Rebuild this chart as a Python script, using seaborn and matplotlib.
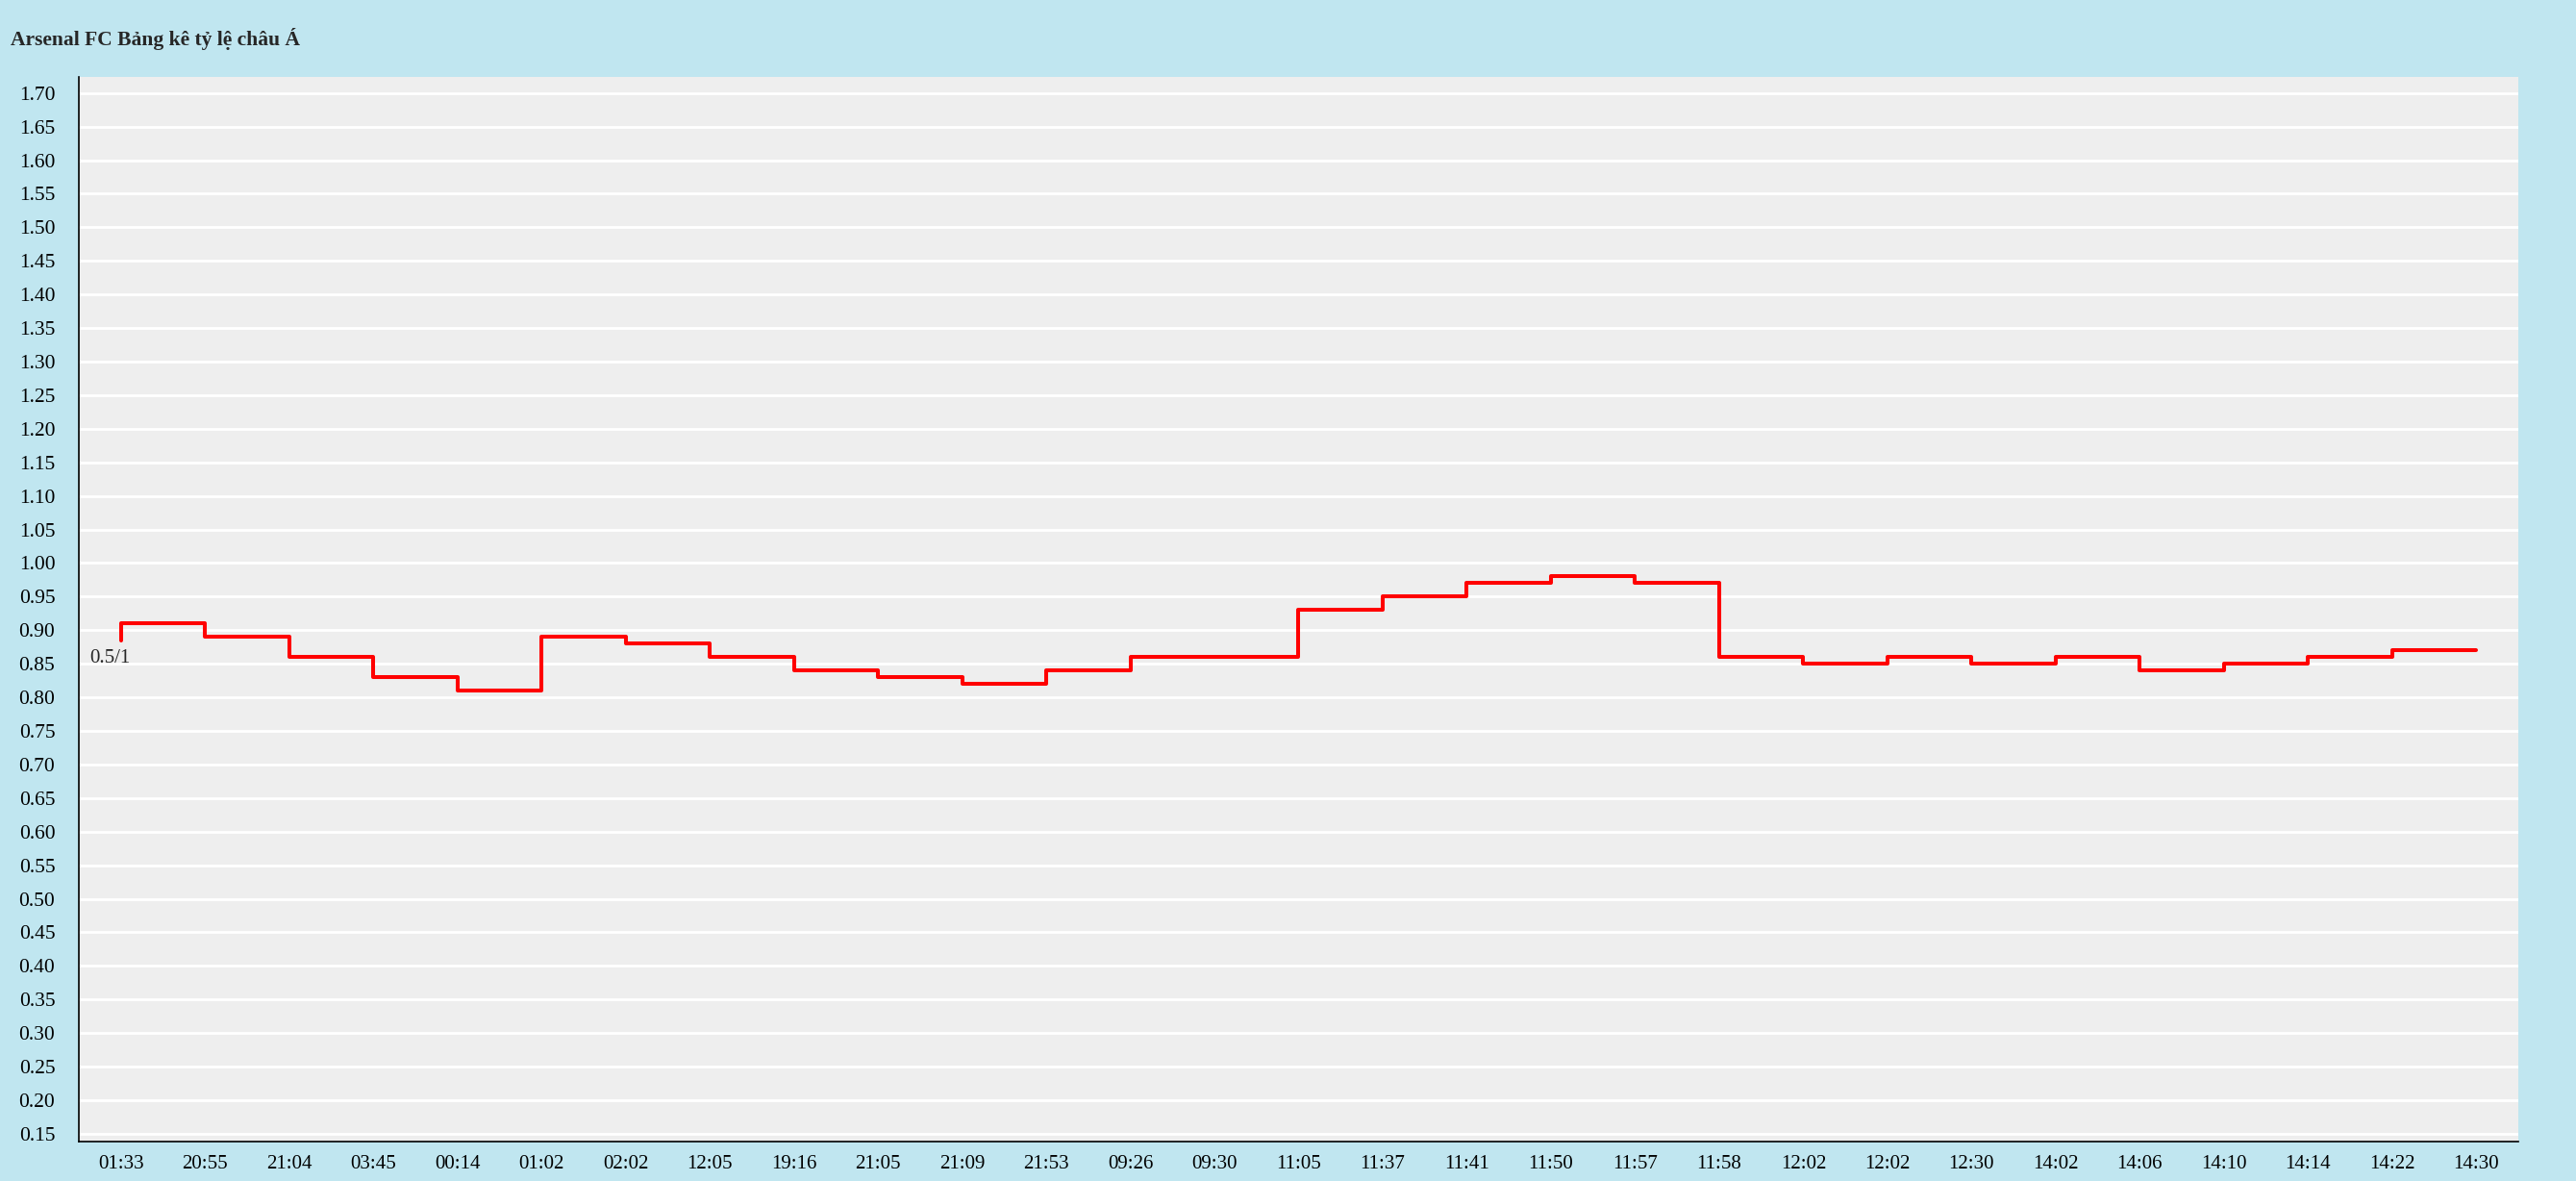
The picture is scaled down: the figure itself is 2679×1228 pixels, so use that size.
import numpy as np
import pandas as pd
import matplotlib
matplotlib.use("Agg")
import matplotlib.pyplot as plt
import seaborn as sns

# odds data
times = ["01:33", "20:55", "21:04", "03:45", "00:14", "01:02", "02:02", "12:05",
         "19:16", "21:05", "21:09", "21:53", "09:26", "09:30", "11:05", "11:37",
         "11:41", "11:50", "11:57", "11:58", "12:02", "12:02", "12:30", "14:02",
         "14:06", "14:10", "14:14", "14:22", "14:30"]
odds = [0.885, 0.91, 0.89, 0.86, 0.83, 0.81, 0.89, 0.88, 0.86, 0.84, 0.83, 0.82,
        0.84, 0.86, 0.86, 0.93, 0.95, 0.97, 0.98, 0.97, 0.86, 0.85, 0.86, 0.85,
        0.86, 0.84, 0.85, 0.86, 0.87]
yticks = np.round(np.arange(0.15, 1.701, 0.05), 2)
start_label = "0.5/1"

df = pd.DataFrame({"pos": range(len(times)), "odds": odds})

sns.set_style("white", {"axes.facecolor": "#EEEEEE"})
plt.rcParams["font.family"] = ["Liberation Serif", "DejaVu Serif"]

fig = plt.figure(figsize=(26.79, 12.28), dpi=100, facecolor="#C0E6F0")
ax = fig.add_axes([0.0306, 0.0334, 0.947, 0.9015])

for v in yticks:
    ax.axhline(v, color="white", lw=2, zorder=1)

sns.lineplot(data=df, x="pos", y="odds", ax=ax, color="#FF0000", lw=2.9,
             drawstyle="steps-pre", zorder=3)

ax.text(-0.13, 0.858, start_label, ha="center", va="center", fontsize=15)

ax.set_xlim(-0.5, 28.5)
ax.set_ylim(0.1385, 1.724)
ax.set_xticks(range(len(times)))
ax.set_xticklabels(times, fontsize=15)
ax.set_yticks(yticks)
ax.set_yticklabels([f"{v:.2f}" for v in yticks], fontsize=15.5)
ax.set_xlabel("")
ax.set_ylabel("")
ax.tick_params(axis="both", direction="inout", length=9.5, width=1.2, colors="black")
ax.tick_params(axis="y", pad=13)
ax.tick_params(axis="x", pad=5)

for s in ["top", "right"]:
    ax.spines[s].set_visible(False)
for s in ["left", "bottom"]:
    ax.spines[s].set_color("black")
    ax.spines[s].set_linewidth(1.2)

fig.text(0.004, 0.967, "Arsenal FC Bảng kê tỷ lệ châu Á", fontsize=15.5,
         fontweight="bold", ha="left", va="center")

fig.savefig("out.png", dpi=100, facecolor=fig.get_facecolor())
